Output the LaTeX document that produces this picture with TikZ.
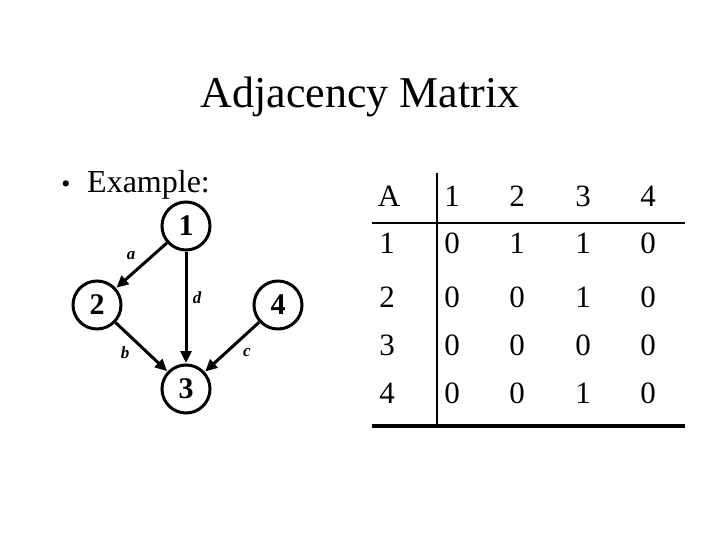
\documentclass[tikz,border=0pt]{standalone}
\usepackage{fontspec}
\setmainfont{Liberation Serif}
\usetikzlibrary{arrows.meta}
\begin{document}
\begin{tikzpicture}[x=1pt,y=-1pt,
  vert/.style={circle,draw,line width=3pt,minimum size=48pt,inner sep=0pt,font=\fontsize{30}{32}\selectfont\bfseries},
  edge/.style={line width=3pt,-{Triangle[length=12pt,width=11pt]},shorten >=0.5pt},
  elab/.style={font=\fontsize{17}{19}\selectfont\bfseries\itshape,inner sep=0pt},
  cell/.style={font=\fontsize{31}{33}\selectfont,inner sep=0pt},
  tline/.style={line width=2.4pt}]
\useasboundingbox (0,0) rectangle (720,540);
\node (title) at (360,97) {\fontsize{44}{48}\selectfont Adjacency Matrix};
\node[inner sep=0pt] (bul) at (66,187) {\fontsize{26}{28}\selectfont \textbullet};
\node[anchor=base west,inner sep=0pt] (ex) at (87,193) {\fontsize{32}{34}\selectfont Example:};
% graph
\node[vert] (n1) at (186,226) {1};
\node[vert] (n2) at (97,305) {2};
\node[vert] (n4) at (278,305) {4};
\node[vert] (n3) at (186,389) {3};
\draw[edge] (n1) -- (n2);
\draw[edge] (n1) -- (n3);
\draw[edge] (n2) -- (n3);
\draw[edge] (n4) -- (n3);
\node[elab] (la) at (131,256) {a};
\node[elab] (ld) at (197,298) {d};
\node[elab] (lb) at (125,353) {b};
\node[elab] (lc) at (247,353) {c};
% table
\coordinate (vt) at (437,173);
\coordinate (vb) at (437,425);
\coordinate (hl) at (372,223);
\coordinate (hr) at (685,223);
\coordinate (bl) at (372,426);
\coordinate (br) at (685,426);
\draw[tline] (vt) -- (vb);
\draw[tline] (hl) -- (hr);
\draw[line width=3.4pt] (bl) -- (br);
\node[cell] (h1) at (389,196) {A};
\node[cell] (h2) at (452,196) {1};
\node[cell] (h3) at (517,196) {2};
\node[cell] (h4) at (583,196) {3};
\node[cell] (h5) at (648,196) {4};
\foreach \r/\y/\a/\b/\c/\d in {1/243/0/1/1/0, 2/297/0/0/1/0, 3/345/0/0/0/0, 4/393/0/0/1/0} {
  \node[cell] (r\r c0) at (387,\y) {\r};
  \node[cell] (r\r c1) at (452,\y) {\a};
  \node[cell] (r\r c2) at (517,\y) {\b};
  \node[cell] (r\r c3) at (583,\y) {\c};
  \node[cell] (r\r c4) at (648,\y) {\d};
}
\end{tikzpicture}
\end{document}
